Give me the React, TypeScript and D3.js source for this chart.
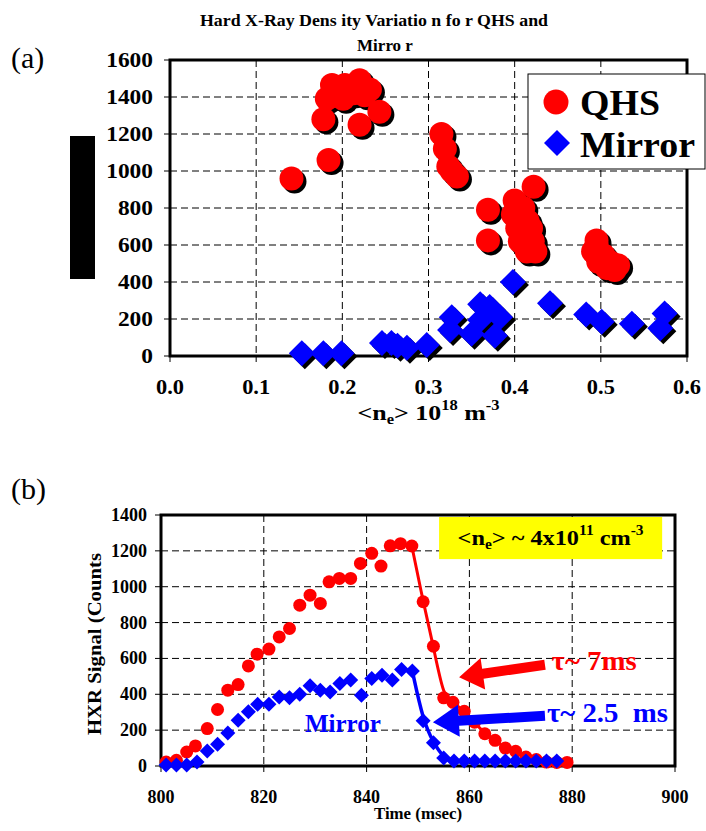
import React from 'react';
import * as d3 from 'd3';

// ---------- Panel (a) data ----------
const qhsDensity = [0.141, 0.184, 0.178, 0.182, 0.188, 0.203, 0.220, 0.201, 0.213, 0.226, 0.196, 0.232, 0.220, 0.243,
  0.315, 0.319, 0.323, 0.327, 0.333, 0.369, 0.369, 0.422,
  0.400, 0.398, 0.403, 0.406, 0.414, 0.421, 0.419, 0.410, 0.415, 0.424, 0.405,
  0.495, 0.491, 0.497, 0.507, 0.516, 0.520, 0.503, 0.510, 0.495];
const qhsHXR = [960, 1060, 1280, 1390, 1465, 1465, 1490, 1390, 1420, 1410, 1430, 1440, 1250, 1320,
  1200, 1120, 1025, 1000, 970, 790, 625, 915,
  840, 765, 690, 620, 565, 620, 690, 800, 730, 565, 730,
  625, 565, 510, 475, 465, 490, 545, 510, 600];
const mirrorDensity = [0.153, 0.178, 0.199, 0.246, 0.257, 0.264, 0.275, 0.298, 0.327, 0.325, 0.350, 0.360, 0.371, 0.377,
  0.383, 0.360, 0.398, 0.441, 0.483, 0.501, 0.536, 0.574, 0.569];
const mirrorHXR = [15, 15, 15, 70, 70, 55, 45, 60, 210, 140, 120, 280, 265, 110,
  210, 195, 400, 285, 225, 185, 175, 230, 150];
const xTicksA = [0, 0.1, 0.2, 0.3, 0.4, 0.5, 0.6];
const yTicksA = [0, 200, 400, 600, 800, 1000, 1200, 1400, 1600];

// ---------- Panel (b) data ----------
const qhsTime = [801, 803, 805, 806.7, 809, 811, 813, 815, 817, 818.7, 821, 823, 825, 827, 829, 831, 832.7, 834.7, 836.9,
  838.8, 841, 842.8, 844.6, 846.6, 848.8, 851, 853, 855, 856.8, 859, 861, 863, 865, 867, 869, 871, 873, 875, 877, 879];
const qhsSignal = [22, 32, 78, 112, 209, 315, 423, 454, 558, 624, 652, 720, 767, 897, 953, 907, 1027, 1046, 1046,
  1130, 1186, 1115, 1228, 1240, 1227, 916, 668, 380, 355, 305, 244, 180, 143, 100, 82, 50, 36, 22, 20, 20];
const mirrorTime = [801, 803, 805, 807, 809, 811, 813, 815, 817, 818.8, 821, 823, 825, 827, 829, 831, 832.9, 834.8, 836.9,
  839, 841, 843, 845, 846.8, 848.9, 851, 853, 855, 857, 859, 861, 863, 865, 867, 869, 871, 873, 875, 877];
const mirrorSignal = [5, 5, 5, 22, 84, 121, 184, 255, 302, 344, 344, 385, 380, 400, 447, 423, 413, 460, 479,
  395, 488, 506, 479, 538, 530, 252, 130, 45, 28, 28, 28, 28, 28, 28, 28, 28, 28, 28, 28];
const xTicksB = [800, 820, 840, 860, 880, 900];
const yTicksB = [0, 200, 400, 600, 800, 1000, 1200, 1400];

const FF = "'Liberation Serif', 'Times New Roman', serif";
const RED = '#ff0000';
const BLUE = '#0000ff';

function diamond(x: number, y: number, r: number) {
  return `M${x},${y - r}L${x + r},${y}L${x},${y + r}L${x - r},${y}Z`;
}

function arrow(x1: number, y1: number, x2: number, y2: number, w: number, L: number, H: number) {
  const dx = x2 - x1, dy = y2 - y1;
  const len = Math.hypot(dx, dy);
  const ux = dx / len, uy = dy / len;
  const px = -uy, py = ux;
  const bx = x2 - ux * L, by = y2 - uy * L;
  const pts = [
    [x1 + px * w / 2, y1 + py * w / 2],
    [bx + px * w / 2, by + py * w / 2],
    [bx + px * H / 2, by + py * H / 2],
    [x2, y2],
    [bx - px * H / 2, by - py * H / 2],
    [bx - px * w / 2, by - py * w / 2],
    [x1 - px * w / 2, y1 - py * w / 2],
  ];
  return 'M' + pts.map(p => p.join(',')).join('L') + 'Z';
}

export default function App() {
  // Panel (a)
  const xA = d3.scaleLinear().domain([0, 0.6]).range([170, 687]);
  const yA = d3.scaleLinear().domain([0, 1600]).range([356, 60]);
  // Panel (b)
  const xB = d3.scaleLinear().domain([800, 900]).range([161, 675]);
  const yB = d3.scaleLinear().domain([0, 1400]).range([766, 515]);

  const qhsA = qhsDensity.map((d, i) => [xA(d), yA(qhsHXR[i])]);
  const mirA = mirrorDensity.map((d, i) => [xA(d), yA(mirrorHXR[i])]);
  const SH = 3;

  const qhsB = qhsTime.map((t, i) => [xB(t), yB(qhsSignal[i])]);
  const mirB = mirrorTime.map((t, i) => [xB(t), yB(mirrorSignal[i])]);

  const lineGen = d3.line<number[]>().x(d => d[0]).y(d => d[1]).curve(d3.curveBasis);
  const qhsDecay = qhsTime.map((t, i) => [t, qhsSignal[i]]).filter(d => d[0] >= 848)
    .map(d => [xB(d[0]), yB(d[1])]);
  const mirDecay = mirrorTime.map((t, i) => [t, mirrorSignal[i]]).filter(d => d[0] >= 848)
    .map(d => [xB(d[0]), yB(d[1])]);

  const dash = '7,4';

  return (
    <svg width={706} height={831} style={{ position: 'absolute', left: 0, top: 0, background: '#fff' }}
      fontFamily={FF}>
      <rect x={0} y={0} width={706} height={831} fill="#fff" />

      {/* ================= Panel (a) ================= */}
      <text x={11} y={68} fontSize={30}>(a)</text>
      <text x={374} y={26} fontSize={17} fontWeight="bold" textAnchor="middle" textLength={348}
        lengthAdjust="spacingAndGlyphs">Hard X-Ray Dens ity Variatio n fo r QHS and</text>
      <text x={385} y={51} fontSize={17} fontWeight="bold" textAnchor="middle">Mirro r</text>

      <rect x={70} y={136} width={25} height={143} fill="#000" />

      {/* grid */}
      {xTicksA.slice(1, -1).map(t => (
        <line key={'gxa' + t} x1={xA(t)} x2={xA(t)} y1={yA(1600)} y2={yA(0)} stroke="#000" strokeWidth={1} strokeDasharray={dash} />
      ))}
      {yTicksA.slice(1, -1).map(t => (
        <line key={'gya' + t} x1={xA(0)} x2={xA(0.6)} y1={yA(t)} y2={yA(t)} stroke="#000" strokeWidth={1} strokeDasharray={dash} />
      ))}
      {/* ticks */}
      {yTicksA.map(t => (
        <line key={'tya' + t} x1={xA(0) - 6} x2={xA(0)} y1={yA(t)} y2={yA(t)} stroke="#000" strokeWidth={1} />
      ))}
      {xTicksA.map(t => (
        <line key={'txa' + t} x1={xA(t)} x2={xA(t)} y1={yA(0)} y2={yA(0) + 6} stroke="#000" strokeWidth={1} />
      ))}
      <rect x={xA(0)} y={yA(1600)} width={xA(0.6) - xA(0)} height={yA(0) - yA(1600)} fill="none" stroke="#000" strokeWidth={3} />
      {/* tick labels */}
      {yTicksA.map(t => (
        <text key={'lya' + t} transform={`translate(${xA(0) - 17},${yA(t) + 7}) scale(1.17,1)`} fontSize={20}
          fontWeight="bold" textAnchor="end">{t}</text>
      ))}
      {xTicksA.map(t => (
        <text key={'lxa' + t} transform={`translate(${xA(t)},${yA(0) + 38}) scale(1.12,1)`} fontSize={20}
          fontWeight="bold" textAnchor="middle">{t.toFixed(1)}</text>
      ))}
      <text x={(xA(0) + xA(0.6)) / 2} y={yA(0) + 64} fontSize={22} fontWeight="bold" textAnchor="middle"
        textLength={142} lengthAdjust="spacingAndGlyphs">
        {'<n'}<tspan fontSize={14} dy={4}>e</tspan><tspan dy={-4}>{'> 10'}</tspan>
        <tspan fontSize={14} dy={-10}>18</tspan><tspan dy={10}>{' m'}</tspan><tspan fontSize={14} dy={-10}>-3</tspan>
      </text>

      {/* shadows */}
      {qhsA.map((p, i) => <circle key={'sq' + i} cx={p[0] + SH} cy={p[1] + SH} r={12} fill="#000" />)}
      {mirA.map((p, i) => <path key={'sm' + i} d={diamond(p[0] + SH, p[1] + SH, 13)} fill="#000" />)}
      {/* markers */}
      {qhsA.map((p, i) => <circle key={'q' + i} cx={p[0]} cy={p[1]} r={12} fill={RED} />)}
      {mirA.map((p, i) => <path key={'m' + i} d={diamond(p[0], p[1], 13)} fill={BLUE} />)}

      {/* legend */}
      <rect x={528} y={74} width={177} height={95} fill="#fff" stroke="#000" strokeWidth={1} />
      <circle cx={556} cy={102} r={12.5} fill={RED} />
      <text x={580} y={115} fontSize={35} fontWeight="bold" textLength={80} lengthAdjust="spacingAndGlyphs">QHS</text>
      <path d={diamond(557, 143, 13)} fill={BLUE} />
      <text x={580} y={157} fontSize={35} fontWeight="bold" textLength={115} lengthAdjust="spacingAndGlyphs">Mirror</text>

      {/* ================= Panel (b) ================= */}
      <text x={11} y={499} fontSize={30}>(b)</text>

      {xTicksB.slice(1, -1).map(t => (
        <line key={'gxb' + t} x1={xB(t)} x2={xB(t)} y1={yB(1400)} y2={yB(0)} stroke="#000" strokeWidth={1} strokeDasharray={dash} />
      ))}
      {yTicksB.slice(1, -1).map(t => (
        <line key={'gyb' + t} x1={xB(800)} x2={xB(900)} y1={yB(t)} y2={yB(t)} stroke="#000" strokeWidth={1} strokeDasharray={dash} />
      ))}
      {yTicksB.map(t => (
        <line key={'tyb' + t} x1={xB(800) - 6} x2={xB(800)} y1={yB(t)} y2={yB(t)} stroke="#000" strokeWidth={1} />
      ))}
      {xTicksB.map(t => (
        <line key={'txb' + t} x1={xB(t)} x2={xB(t)} y1={yB(0)} y2={yB(0) + 6} stroke="#000" strokeWidth={1} />
      ))}
      <rect x={xB(800)} y={yB(1400)} width={xB(900) - xB(800)} height={yB(0) - yB(1400)} fill="none" stroke="#000" strokeWidth={3} />

      {yTicksB.map(t => (
        <text key={'lyb' + t} x={xB(800) - 14} y={yB(t) + 6} fontSize={18} fontWeight="bold" textAnchor="end">{t}</text>
      ))}
      {xTicksB.map(t => (
        <text key={'lxb' + t} x={xB(t)} y={yB(0) + 37} fontSize={18} fontWeight="bold" textAnchor="middle">{t}</text>
      ))}
      <text x={(xB(800) + xB(900)) / 2} y={yB(0) + 53} fontSize={17} fontWeight="bold" textAnchor="middle"
        textLength={88} lengthAdjust="spacingAndGlyphs">Time (msec)</text>
      <text transform={`translate(101,644) rotate(-90)`} fontSize={18} fontWeight="bold" textAnchor="middle"
        textLength={182} lengthAdjust="spacingAndGlyphs">HXR Signal (Counts</text>

      {/* yellow box */}
      <rect x={xB(854.1)} y={yB(1389)} width={xB(897.5) - xB(854.1)} height={yB(1154) - yB(1389)} fill="#ffff00" />
      <text x={(xB(854.1) + xB(897.5)) / 2} y={yB(1389) + 28} fontSize={22} fontWeight="bold" textAnchor="middle"
        textLength={186} lengthAdjust="spacingAndGlyphs">
        {'<n'}<tspan fontSize={14} dy={4}>e</tspan><tspan dy={-4}>{'> ~ 4x10'}</tspan>
        <tspan fontSize={14} dy={-10}>11</tspan><tspan dy={10}>{' cm'}</tspan><tspan fontSize={14} dy={-10}>-3</tspan>
      </text>

      {/* decay fit lines */}
      <path d={lineGen(qhsDecay as any) || ''} fill="none" stroke={RED} strokeWidth={3} />
      <path d={lineGen(mirDecay as any) || ''} fill="none" stroke={BLUE} strokeWidth={3.5} />

      {/* markers */}
      {qhsB.map((p, i) => <circle key={'qb' + i} cx={p[0]} cy={p[1]} r={6.5} fill={RED} />)}
      {mirB.map((p, i) => <path key={'mb' + i} d={diamond(p[0], p[1], 7.5)} fill={BLUE} />)}

      {/* annotations */}
      <path d={arrow(xB(874.7), yB(565), xB(858), yB(495), 10, 24, 32)} fill={RED} />
      <path d={arrow(xB(874.7), yB(280), xB(852.9), yB(244), 10, 26, 32)} fill={BLUE} />
      <text x={xB(876)} y={yB(534)} fontSize={27} fontWeight="bold" fill={RED} textLength={85}
        lengthAdjust="spacingAndGlyphs">τ~ 7ms</text>
      <text x={xB(875.1)} y={yB(244)} fontSize={27} fontWeight="bold" fill={BLUE} textLength={121}
        lengthAdjust="spacingAndGlyphs" style={{ whiteSpace: 'pre' }}>τ~ 2.5  ms</text>
      <text x={xB(828)} y={yB(188)} fontSize={25} fontWeight="bold" fill={BLUE}>Mirror</text>
    </svg>
  );
}
